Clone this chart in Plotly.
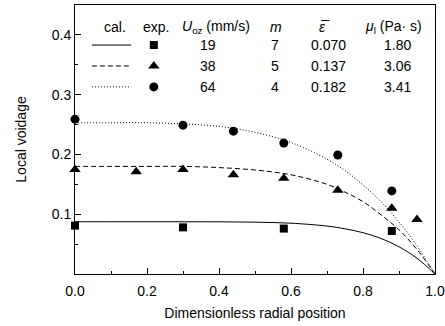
import plotly.graph_objects as go

# Experimental data
r_sq = [0.0, 0.30, 0.58, 0.88]
v_sq = [0.081, 0.078, 0.076, 0.072]
r_tri = [0.0, 0.17, 0.30, 0.44, 0.58, 0.73, 0.88, 0.95]
v_tri = [0.175, 0.171, 0.175, 0.166, 0.160, 0.140, 0.110, 0.091]
r_cir = [0.0, 0.30, 0.44, 0.58, 0.73, 0.88]
v_cir = [0.259, 0.249, 0.239, 0.219, 0.199, 0.139]

# Calculated curves
r_cal = [0.0, 0.1, 0.2, 0.3, 0.4, 0.5, 0.6, 0.7, 0.75, 0.8, 0.85, 0.9, 0.95, 1.0]
v_cal1 = [0.0874, 0.0874, 0.0874, 0.0874, 0.0873, 0.0867, 0.0850, 0.0802, 0.0756, 0.0691, 0.0595, 0.0455, 0.0263, 0.0]
v_cal2 = [0.180, 0.180, 0.180, 0.180, 0.178, 0.174, 0.166, 0.150, 0.137, 0.121, 0.099, 0.074, 0.041, 0.0]
v_cal3 = [0.253, 0.253, 0.253, 0.251, 0.247, 0.237, 0.220, 0.192, 0.173, 0.149, 0.121, 0.087, 0.047, 0.0]

# Legend table
hdr_text = ["cal.", "exp.", "<i>U</i><sub>oz</sub> (mm/s)", "<i>m</i>", "<i>ε\u0305</i>", "<i>μ</i><sub>l</sub> (Pa· s)"]
hdr_x = [0.111, 0.224, 0.393, 0.558, 0.694, 0.885]
u_oz = ["19", "38", "64"]
m_vals = ["7", "5", "4"]
eps_vals = ["0.070", "0.137", "0.182"]
mu_vals = ["1.80", "3.06", "3.41"]
row_y = [0.383, 0.348, 0.313]
hdr_y = 0.413
col_x = [0.369, 0.556, 0.703, 0.895]
dashes = ["solid", "5px,3px", "1px,2px"]
symbols = ["square", "triangle-up", "circle"]
sizes = [8, 10, 9]

fig = go.Figure()
for v, d in zip([v_cal1, v_cal2, v_cal3], dashes):
    fig.add_trace(go.Scatter(x=r_cal, y=v, mode="lines", line=dict(color="black", width=1, dash=d, shape="spline"), showlegend=False))
for rx, vy, s, sz in zip([r_sq, r_tri, r_cir], [v_sq, v_tri, v_cir], symbols, sizes):
    fig.add_trace(go.Scatter(x=rx, y=vy, mode="markers", marker=dict(symbol=s, size=sz, color="black"), showlegend=False, cliponaxis=False))

font = dict(family="Liberation Sans, Arial, sans-serif", size=14, color="black")
ann = []
for t, x in zip(hdr_text, hdr_x):
    ann.append(dict(x=x, y=hdr_y, text=t, showarrow=False, xref="x", yref="y", font=font, xanchor="center", yanchor="middle"))
for i in range(3):
    for x, t in zip(col_x, [u_oz[i], m_vals[i], eps_vals[i], mu_vals[i]]):
        ann.append(dict(x=x, y=row_y[i], text=t, showarrow=False, xref="x", yref="y", font=font, xanchor="center", yanchor="middle"))

# legend samples
for i in range(3):
    fig.add_trace(go.Scatter(x=[0.047, 0.156], y=[row_y[i], row_y[i]], mode="lines", line=dict(color="black", width=1, dash=dashes[i]), showlegend=False, hoverinfo="skip"))
    fig.add_trace(go.Scatter(x=[0.219], y=[row_y[i]], mode="markers", marker=dict(symbol=symbols[i], size=sizes[i], color="black"), showlegend=False, hoverinfo="skip"))

axis_common = dict(showline=True, linecolor="black", linewidth=1, mirror=True, ticks="inside",
                   tickcolor="black", showgrid=False, zeroline=False, tickfont=font, automargin=False)
fig.update_xaxes(range=[0, 1.0], tickvals=[0, 0.2, 0.4, 0.6, 0.8, 1.0], tickformat=".1f", ticklen=6,
                 ticklabelstandoff=4,
                 minor=dict(tickvals=[0.1, 0.3, 0.5, 0.7, 0.9], ticks="inside", ticklen=3, tickcolor="black"),
                 title=dict(text="Dimensionless radial position", font=font, standoff=10), **axis_common)
fig.update_yaxes(range=[0, 0.45], tickvals=[0.1, 0.2, 0.3, 0.4], tickformat=".1f", ticklen=6,
                 minor=dict(tickvals=[0.05, 0.15, 0.25, 0.35], ticks="inside", ticklen=3, tickcolor="black"),
                 title=dict(text="Local voidage", font=font, standoff=21), **axis_common)
fig.update_layout(width=445, height=326, margin=dict(l=75, r=10, t=5, b=52),
                  plot_bgcolor="white", paper_bgcolor="white", annotations=ann, font=font)
fig.write_html("out.html", config={"displayModeBar": False},
               post_script="document.body.style.margin='0';document.body.style.overflow='hidden';")
